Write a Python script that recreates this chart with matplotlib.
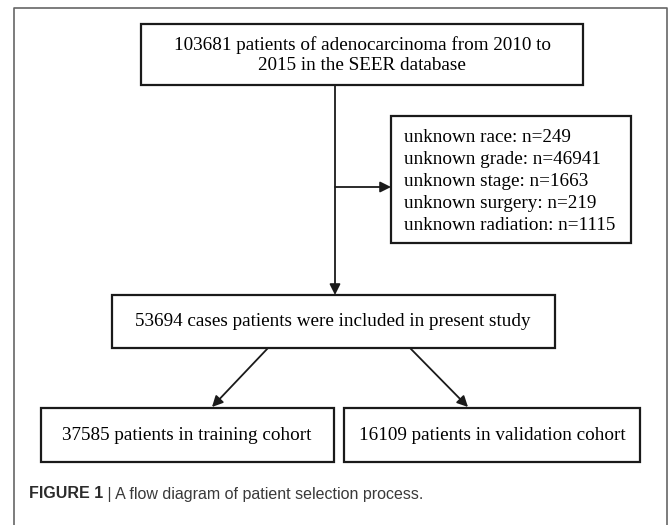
import matplotlib.pyplot as plt
from matplotlib.patches import Rectangle

# flow diagram content
top_text = "103681 patients of adenocarcinoma from 2010 to\n2015 in the SEER database"
excluded = [
    "unknown race: n=249",
    "unknown grade: n=46941",
    "unknown stage: n=1663",
    "unknown surgery: n=219",
    "unknown radiation: n=1115",
]
included_text = "53694 cases patients were included in present study"
cohorts = ["37585 patients in training cohort", "16109 patients in validation cohort"]
caption_bold = "FIGURE 1"
caption_rest = " | A flow diagram of patient selection process."

W, H = 669, 525
fig = plt.figure(figsize=(W / 100, H / 100), dpi=100)
ax = fig.add_axes([0, 0, 1, 1])
ax.set_xlim(0, W)
ax.set_ylim(H, 0)
ax.axis('off')

serif = ['Liberation Serif', 'DejaVu Serif']
fs = 13.8

def box(x0, y0, x1, y1):
    ax.add_patch(Rectangle((x0, y0), x1 - x0, y1 - y0, fill=False,
                           edgecolor='#1a1a1a', lw=1.6))

def arrow(x0, y0, x1, y1):
    ax.annotate('', xy=(x1, y1), xytext=(x0, y0),
                arrowprops=dict(arrowstyle='-|>', color='#1a1a1a', lw=1.3,
                                mutation_scale=16, shrinkA=0, shrinkB=0))

# outer frame (open at bottom)
ax.plot([14, 14, 667, 667], [H, 8, 8, H], color='#666666', lw=1.2)

# top box
box(141, 24, 583, 85)
ax.text(362, 55, top_text, ha='center', va='center', fontsize=fs,
        family=serif, linespacing=1.2)

# exclusion box
box(391, 116, 631, 243)
for i, t in enumerate(excluded):
    ax.text(404, 138 + i * 22, t, ha='left', va='center', fontsize=fs, family=serif)

# main vertical arrow and branch
arrow(335, 85, 335, 295)
arrow(335, 187, 391, 187)

# included box
box(112, 295, 555, 348)
ax.text(333, 322, included_text, ha='center', va='center', fontsize=fs, family=serif)

# split arrows
arrow(268, 348, 212, 407)
arrow(410, 348, 468, 407)

# cohort boxes
box(41, 408, 334, 462)
box(344, 408, 640, 462)
ax.text(187, 435, cohorts[0], ha='center', va='center', fontsize=fs, family=serif)
ax.text(492, 435, cohorts[1], ha='center', va='center', fontsize=fs, family=serif)

# caption
t = ax.text(29, 494, caption_bold, ha='left', va='center', fontsize=11.5,
            fontweight='bold', color='#2b2b2b', family=['Liberation Sans', 'DejaVu Sans'])
fig.canvas.draw()
bb = t.get_window_extent()
x_end = ax.transData.inverted().transform((bb.x1, 0))[0]
ax.text(x_end, 494, caption_rest, ha='left', va='center', fontsize=11.5,
        color='#3a3a3a', family=['Liberation Sans', 'DejaVu Sans'])

fig.savefig('out.png', dpi=100)
